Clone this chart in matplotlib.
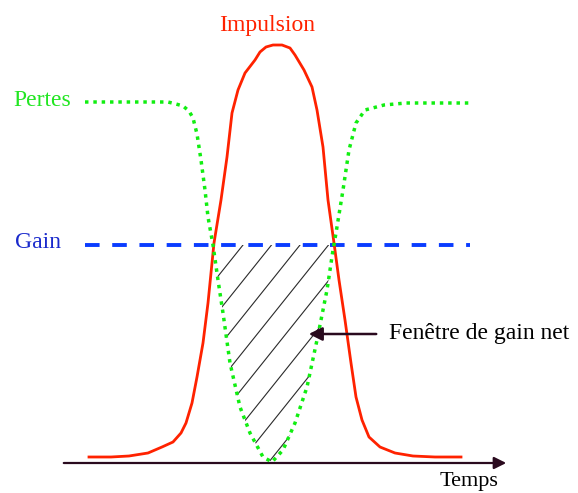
import numpy as np
import matplotlib.pyplot as plt

# pulse (x = temps, y = niveau)
impulsion_t = [89, 111, 129, 148, 162, 173, 181, 186, 192, 197, 203, 208, 214,
               221, 227, 232, 238, 245, 255, 260, 266, 273, 282, 290, 295, 304,
               312, 317, 323, 328, 334, 339, 345, 351, 356, 362, 369, 380, 395,
               413, 435, 461]
impulsion_y = [6, 6, 7, 10, 16, 21, 30, 40, 60, 86, 120, 160, 220,
               263, 306, 350, 373, 390, 403, 411, 416, 418, 418, 415, 408, 393,
               376, 353, 316, 263, 220, 183, 143, 100, 66, 43, 26, 16, 10,
               7, 6, 6]

# losses
pertes_t = [85, 120, 168, 176, 183, 189, 193, 197, 201, 205, 208, 213, 218,
            223, 230, 240, 250, 263, 272, 283, 295, 307, 317, 327, 333, 336,
            343, 349, 356, 365, 384, 406, 470]
pertes_y = [361, 361, 361, 359, 357, 352, 345, 329, 303, 273, 246, 218, 183,
            150, 100, 56, 30, 6, 1, 13, 40, 76, 123, 173, 213, 230,
            273, 313, 340, 353, 358, 360, 360]

# gain
gain_t = [85, 470]
gain_y = [218, 218]

fig = plt.figure(figsize=(5.78, 4.93), dpi=100)
ax = fig.add_axes([0, 0, 1, 1])
ax.set_xlim(0, 578)
ax.set_ylim(-30, 463)
ax.axis('off')

serif = 'Liberation Serif'

# hatched net gain window
pt = np.array(pertes_t, dtype=float)
py = np.array(pertes_y, dtype=float)
zone = ax.fill_between(pt, py, gain_y[0], where=py < gain_y[0], interpolate=True,
                       facecolor='none', edgecolor='none')
clip = zone.get_paths()[0]
for x0 in np.arange(243 - 28.5 * 4, 243 + 28.5 * 12, 28.5):
    xs = np.array([x0 - 250, x0])
    ys = gain_y[0] + 1.25 * (xs - x0)
    l, = ax.plot(xs, ys, color='#2a2a2a', lw=0.8)
    l.set_clip_path(clip, ax.transData)

ax.plot(impulsion_t, impulsion_y, color='#ff2200', lw=2.0, zorder=3)
ax.plot(pertes_t, pertes_y, color='#11ee11', lw=2.5,
        linestyle=(0, (1, 1.4)), zorder=4)
ax.plot(gain_t, gain_y, color='#0a3cff', lw=2.8,
        linestyle=(0, (3.75, 3.25)), zorder=2)

# time axis
ax.annotate('', xy=(509, 0), xytext=(61, 0),
            arrowprops=dict(arrowstyle='-|>', color='#2a0a1e', lw=1.6,
                            mutation_scale=18), zorder=1)
ax.text(440, -9, 'Temps', family=serif, fontsize=16, va='top', ha='left')

# labels
ax.text(267, 438, 'Impulsion', family=serif, fontsize=17, color='#ff2200',
        ha='center', va='center')
ax.text(13, 362, 'Pertes', family=serif, fontsize=17, color='#22e622',
        ha='left', va='center')
ax.text(15, 220, 'Gain', family=serif, fontsize=17, color='#1a2acc',
        ha='left', va='center')
ax.text(389, 130, 'Fenêtre de gain net', family=serif, fontsize=17,
        ha='left', va='center')
ax.annotate('', xy=(306, 129), xytext=(379, 129),
            arrowprops=dict(arrowstyle='-|>', color='#2a0a1e', lw=1.8,
                            mutation_scale=20), zorder=5)

fig.savefig('out.png', dpi=100)
